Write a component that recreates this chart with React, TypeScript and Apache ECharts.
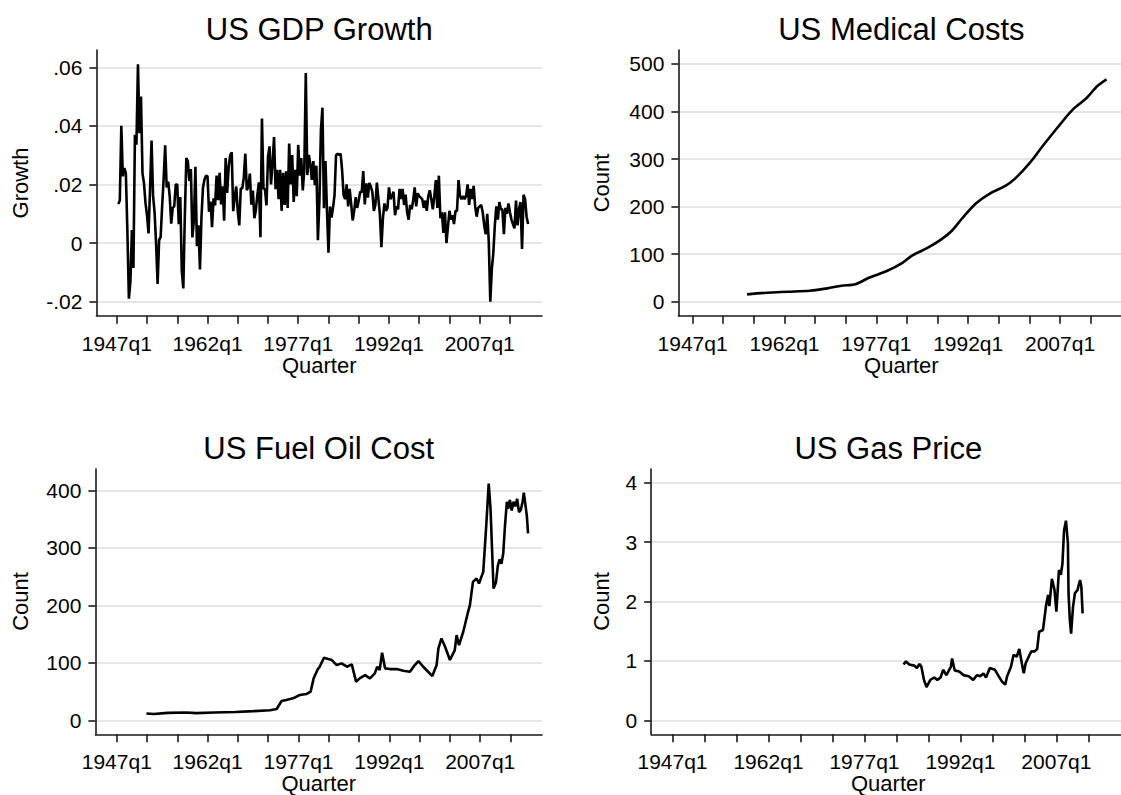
import React, { useEffect, useRef } from "react";
import * as echarts from "echarts";

const FONT = '"Liberation Sans", Arial, sans-serif';

// x axis ticks (quarters, shown as years)
const xTickYears = [1947, 1952, 1957, 1962, 1967, 1972, 1977, 1982, 1987, 1992, 1997, 2002, 2007, 2012];
const xLabelYears = [1947, 1962, 1977, 1992, 2007];

// y tick values per panel
const gdpTicks = [-0.02, 0, 0.02, 0.04, 0.06];
const medTicks = [0, 100, 200, 300, 400, 500];
const fuelTicks = [0, 100, 200, 300, 400];
const gasTicks = [0, 1, 2, 3, 4];

// US GDP growth, quarterly, from 1947q2 to 2015q1
const gdpStartYear = 1947.25;
const gdpGrowth = [
  0.0133, 0.0145, 0.0400,
  0.0228, 0.0256, 0.0239, 0.0043,
  -0.0190, -0.0132, 0.0044, -0.0085,
  0.0370, 0.0336, 0.0610, 0.0375,
  0.0500, 0.0238, 0.0204, 0.0136,
  0.0095, 0.0033, 0.0184, 0.0350,
  0.0161, 0.0105, -0.0003, -0.0140,
  0.0010, 0.0021, 0.0126, 0.0220,
  0.0334, 0.0190, 0.0210, 0.0160,
  0.0066, 0.0120, 0.0125, 0.0200,
  0.0200, 0.0064, 0.0157, -0.0096,
  -0.0155, 0.0094, 0.0290, 0.0278,
  0.0212, 0.0253, 0.0019, 0.0078,
  0.0260, -0.0011, 0.0061, -0.0090,
  0.0088, 0.0190, 0.0217, 0.0230,
  0.0228, 0.0107, 0.0142, 0.0054,
  0.0153, 0.0128, 0.0230, 0.0146,
  0.0240, 0.0132, 0.0194, 0.0076,
  0.0290, 0.0171, 0.0260, 0.0300,
  0.0310, 0.0109, 0.0157, 0.0193,
  0.0109, 0.0060, 0.0187, 0.0186,
  0.0224, 0.0305, 0.0180, 0.0192,
  0.0237, 0.0131, 0.0179, 0.0085,
  0.0114, 0.0166, 0.0207, 0.0020,
  0.0425, 0.0187, 0.0183, 0.0129,
  0.0294, 0.0330, 0.0200, 0.0273,
  0.0362, 0.0184, 0.0250, 0.0150,
  0.0250, 0.0110, 0.0240, 0.0130,
  0.0245, 0.0120, 0.0340, 0.0200,
  0.0300, 0.0140, 0.0250, 0.0160,
  0.0335, 0.0230, 0.0290, 0.0180,
  0.0250, 0.0580, 0.0232, 0.0301,
  0.0270, 0.0216, 0.0280, 0.0198,
  0.0264, 0.0010, 0.0143, 0.0386,
  0.0462, 0.0119, 0.0280, 0.0110,
  -0.0033, 0.0125, 0.0087, 0.0121,
  0.0163, 0.0300, 0.0305, 0.0300,
  0.0305, 0.0250, 0.0163, 0.0150,
  0.0200, 0.0125, 0.0185, 0.0134,
  0.0077, 0.0110, 0.0157, 0.0120,
  0.0145, 0.0175, 0.0173, 0.0246,
  0.0132, 0.0204, 0.0155, 0.0205,
  0.0193, 0.0175, 0.0110, 0.0130,
  0.0206, 0.0152, 0.0098, -0.0014,
  0.0085, 0.0135, 0.0110, 0.0120,
  0.0190, 0.0150, 0.0160, 0.0175,
  0.0095, 0.0125, 0.0115, 0.0185,
  0.0150, 0.0185, 0.0130, 0.0165,
  0.0105, 0.0080, 0.0130, 0.0115,
  0.0145, 0.0190, 0.0125, 0.0170,
  0.0160, 0.0155, 0.0150, 0.0120,
  0.0145, 0.0110, 0.0160, 0.0180,
  0.0150, 0.0115, 0.0160, 0.0215,
  0.0120, 0.0230, 0.0085, 0.0105,
  0.0035, 0.0105, 0.0000, 0.0055,
  0.0110, 0.0080, 0.0095, 0.0065,
  0.0110, 0.0110, 0.0215, 0.0160,
  0.0150, 0.0160, 0.0150, 0.0160,
  0.0200, 0.0130, 0.0185, 0.0150,
  0.0195, 0.0125, 0.0090, 0.0120,
  0.0125, 0.0130, 0.0105, 0.0060,
  0.0030, 0.0100, 0.0005, -0.0200,
  -0.0090, -0.0035, 0.0060, 0.0125,
  0.0080, 0.0140, 0.0115, 0.0115,
  0.0030, 0.0120, 0.0100, 0.0135,
  0.0105, 0.0080, 0.0065, 0.0050,
  0.0145, 0.0060, 0.0115, 0.0140,
  -0.0020, 0.0165, 0.0150, 0.0090,
  0.0065,
];

// US medical costs [year, value]
const medicalPoints = [
  [1955.9, 15.4], [1959.1, 18.9], [1962.6, 21], [1966.1, 23.1], [1969.0, 28],
  [1971.3, 33.7], [1973.6, 37], [1975.9, 51], [1978.8, 65], [1981.2, 81],
  [1982.9, 97.5], [1985.2, 112], [1987.5, 130], [1989.3, 148.7], [1991.0, 175],
  [1993.3, 207], [1995.6, 228], [1998.0, 243], [1999.7, 259.5], [2002.0, 291],
  [2004.3, 329.6], [2006.7, 368], [2009.0, 403], [2011.3, 427.8], [2013.1, 453.7],
  [2014.6, 467.8],
];

// US fuel oil cost [year, value]
const fuelPoints = [
  [1951.9, 12], [1953.1, 11], [1955.4, 13], [1958.4, 13.5], [1960.1, 12.5],
  [1963.1, 13.5], [1966.6, 14.5], [1969.6, 16], [1972.3, 17.5], [1973.4, 19.7],
  [1974.2, 33.6], [1975.0, 35.3], [1976.1, 38.2], [1977.2, 44], [1978.3, 45.7],
  [1979.0, 49.8], [1979.5, 72.9], [1980.2, 89.1], [1980.5, 93.2], [1981.2, 108.8],
  [1981.9, 106.5], [1982.5, 104.8], [1983.3, 96.1], [1984.1, 99], [1985.0, 93.2],
  [1985.8, 97.3], [1986.5, 67.2], [1987.1, 72.9], [1988.0, 78.7], [1988.8, 72.9],
  [1989.6, 81.6], [1990.0, 93.2], [1990.4, 87.4], [1990.8, 117.5], [1991.3, 90.3],
  [1992.1, 89.1], [1993.2, 89.1], [1994.3, 86.3], [1995.4, 84.5], [1996.2, 96.1],
  [1996.8, 103], [1997.6, 93.2], [1998.4, 84.5], [1999.1, 77], [1999.8, 96.1],
  [2000.1, 125], [2000.6, 142.4], [2001.2, 127.9], [2002.0, 104.8], [2002.8, 122.1],
  [2003.1, 148.2], [2003.5, 130.8], [2004.2, 154], [2005.0, 188.7], [2005.3, 200.3],
  [2005.8, 240.8], [2006.4, 246.6], [2006.8, 237.9], [2007.5, 258.2], [2008.0, 339.2],
  [2008.4, 411.6], [2008.7, 368.2], [2009.2, 229.2], [2009.6, 240], [2009.9, 268],
  [2010.2, 280], [2010.5, 272], [2010.8, 290], [2011.1, 340], [2011.4, 380],
  [2011.6, 368], [2011.9, 383], [2012.2, 365], [2012.5, 380], [2012.8, 372],
  [2013.1, 385], [2013.4, 362], [2013.7, 366], [2014.0, 380], [2014.2, 396],
  [2014.5, 372], [2014.7, 355], [2014.9, 325],
];

// US gas price [year, value]
const gasPoints = [
  [1983.1, 0.94], [1983.5, 0.99], [1984.0, 0.94], [1984.8, 0.92], [1985.2, 0.88],
  [1985.6, 0.95], [1985.9, 0.90], [1986.3, 0.68], [1986.7, 0.56], [1987.3, 0.68],
  [1987.9, 0.72], [1988.4, 0.68], [1988.9, 0.72], [1989.3, 0.85], [1989.8, 0.76],
  [1990.5, 0.90], [1990.7, 1.04], [1991.1, 0.84], [1991.8, 0.82], [1992.5, 0.76],
  [1993.3, 0.74], [1994.0, 0.68], [1994.6, 0.76], [1995.1, 0.74], [1995.6, 0.79],
  [1996.0, 0.72], [1996.6, 0.88], [1997.4, 0.85], [1998.0, 0.74], [1998.5, 0.65],
  [1999.0, 0.60], [1999.3, 0.74], [1999.9, 0.90], [2000.3, 1.10], [2000.8, 1.07],
  [2001.2, 1.20], [2001.6, 0.96], [2001.9, 0.79], [2002.2, 0.96], [2002.8, 1.10],
  [2003.1, 1.16], [2003.6, 1.16], [2004.0, 1.20], [2004.3, 1.49], [2004.9, 1.52],
  [2005.4, 1.94], [2005.7, 2.11], [2005.9, 1.92], [2006.3, 2.38], [2006.7, 2.20],
  [2007.0, 1.83], [2007.4, 2.53], [2007.7, 2.45], [2007.95, 2.64], [2008.2, 3.20],
  [2008.5, 3.36], [2008.8, 2.98], [2008.9, 2.14], [2009.1, 1.69], [2009.3, 1.46],
  [2009.6, 1.91], [2009.9, 2.14], [2010.3, 2.19], [2010.5, 2.28], [2010.7, 2.36],
  [2010.9, 2.25], [2011.1, 1.80],
];

const AXIS_COLOR = "#1a1a1a";
const GRID_COLOR = "#e6e6e6";
const LINE_COLOR = "#000000";
const TICK_FONT = 21;

function makeX(gridIndex: number, min: number, max: number) {
  return {
    type: "value",
    gridIndex,
    min,
    max,
    axisLine: { show: true, onZero: false, lineStyle: { color: AXIS_COLOR, width: 1.6 } },
    axisTick: { show: true, length: 8, customValues: xTickYears, lineStyle: { color: AXIS_COLOR, width: 1.6 } },
    axisLabel: {
      customValues: xLabelYears,
      formatter: (v: number) => `${Math.round(v)}q1`,
      fontSize: TICK_FONT,
      color: "#000",
      fontFamily: FONT,
      margin: 17,
    },
    splitLine: { show: false },
  };
}

function makeY(gridIndex: number, min: number, max: number, ticks: number[], fmt: (v: number) => string) {
  return {
    type: "value",
    gridIndex,
    min,
    max,
    axisLine: { show: true, onZero: false, lineStyle: { color: AXIS_COLOR, width: 1.6 } },
    axisTick: { show: true, length: 7, customValues: ticks, lineStyle: { color: AXIS_COLOR, width: 1.6 } },
    axisLabel: {
      customValues: ticks,
      formatter: fmt,
      fontSize: TICK_FONT,
      color: "#000",
      fontFamily: FONT,
      margin: 14,
    },
    splitLine: { show: true, lineStyle: { color: GRID_COLOR, width: 2 } },
  };
}

const gdpFmt = (v: number) => (Math.abs(v) < 1e-9 ? "0" : v.toFixed(2).replace("0.", "."));
const intFmt = (v: number) => String(Math.round(v));

function text(x: number, y: number, s: string, size: number, rotate = 0) {
  return {
    type: "text",
    x,
    y,
    rotation: rotate,
    style: {
      text: s,
      fontSize: size,
      fontFamily: FONT,
      fill: "#000",
      textAlign: "center",
      textVerticalAlign: "middle",
    },
  };
}

function lineSeries(xIdx: number, data: number[][]) {
  return {
    type: "line",
    xAxisIndex: xIdx,
    yAxisIndex: xIdx,
    data,
    showSymbol: false,
    symbol: "none",
    lineStyle: { color: LINE_COLOR, width: 2.6 },
    clip: false,
  };
}

export default function App() {
  const ref = useRef<HTMLDivElement>(null);
  useEffect(() => {
    if (!ref.current) return;
    const chart = echarts.init(ref.current, null, { renderer: "svg" });
    const gdpData = gdpGrowth.map((v, i) => [gdpStartYear + i / 4, v]);
    const grids = [
      { left: 96.4, top: 50, width: 445.6, height: 265.7 },
      { left: 678.4, top: 50, width: 446, height: 265.7 },
      { left: 95.4, top: 469, width: 446.6, height: 265.3 },
      { left: 651.2, top: 469, width: 474.2, height: 265.3 },
    ];
    const option = {
      animation: false,
      backgroundColor: "#ffffff",
      grid: grids.map((g) => ({ ...g, containLabel: false })),
      xAxis: [
        makeX(0, 1943.63, 2017.3),
        makeX(1, 1944.68, 2016.96),
        makeX(2, 1943.47, 2017.2),
        makeX(3, 1943.67, 2017.1),
      ],
      yAxis: [
        makeY(0, -0.0248, 0.0659, gdpTicks, gdpFmt),
        makeY(1, -29.4, 529.4, medTicks, intFmt),
        makeY(2, -24.3, 437, fuelTicks, intFmt),
        makeY(3, -0.236, 4.23, gasTicks, intFmt),
      ],
      series: [
        lineSeries(0, gdpData),
        { ...lineSeries(1, medicalPoints), smooth: 0.3 },
        lineSeries(2, fuelPoints),
        lineSeries(3, gasPoints),
      ],
      graphic: [
        text(319.2, 29, "US GDP Growth", 31),
        text(901.4, 29, "US Medical Costs", 31),
        text(318.7, 448, "US Fuel Oil Cost", 31),
        text(888.3, 448, "US Gas Price", 31),
        text(319.2, 365, "Quarter", 22),
        text(901.4, 365, "Quarter", 22),
        text(318.7, 783, "Quarter", 22),
        text(888.3, 783, "Quarter", 22),
        text(20, 183, "Growth", 22, Math.PI / 2),
        text(601.5, 183, "Count", 22, Math.PI / 2),
        text(20, 601.5, "Count", 22, Math.PI / 2),
        text(601.5, 601.5, "Count", 22, Math.PI / 2),
      ],
    };
    chart.setOption(option as any);
    return () => chart.dispose();
  }, []);
  return (
    <div
      ref={ref}
      style={{ position: "fixed", left: 0, top: 0, width: 1121, height: 795, background: "#fff" }}
    />
  );
}
